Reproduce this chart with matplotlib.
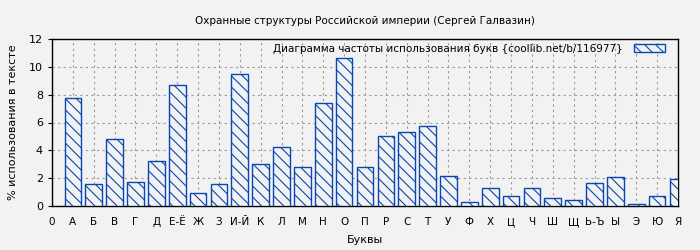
import numpy as np
import matplotlib
matplotlib.use("Agg")
import matplotlib.pyplot as plt

letters = ["А", "Б", "В", "Г", "Д", "Е-Ё", "Ж", "З", "И-Й", "К", "Л", "М", "Н", "О", "П",
           "Р", "С", "Т", "У", "Ф", "Х", "Ц", "Ч", "Ш", "Щ", "Ь-Ъ", "Ы", "Э", "Ю", "Я"]
percent = [7.75, 1.56, 4.8, 1.7, 3.22, 8.69, 0.91, 1.56, 9.48, 3.0, 4.22, 2.78, 7.39, 10.63, 2.78,
           5.02, 5.3, 5.74, 2.14, 0.26, 1.27, 0.7, 1.27, 0.55, 0.41, 1.63, 2.06, 0.12, 0.7, 1.92]

title = "Охранные структуры Российской империи (Сергей Галвазин)"
legend_label = "Диаграмма частоты использования букв {coollib.net/b/116977}"

bg = "#f2f2f2"
blue = "#0a47b0"

plt.rcParams["hatch.linewidth"] = 0.8
plt.rcParams["hatch.color"] = blue

fig = plt.figure(figsize=(7, 2.5), dpi=100, facecolor=bg)
ax = fig.add_axes([0.0743, 0.176, 0.8943, 0.668], facecolor=bg)

pos = np.arange(1, len(letters) + 1)
ax.bar(pos, percent, width=0.8, facecolor=bg, edgecolor=blue, linewidth=1.0,
       hatch="\\\\\\", label=legend_label, zorder=3)

ax.set_xlim(0, 30)
ax.set_ylim(0, 12)
ax.set_xticks(np.arange(0, 31))
ax.set_xticklabels(["0"] + letters, fontsize=7.5)
ax.set_yticks(np.arange(0, 13, 2))
ax.tick_params(axis="y", labelsize=8, length=3)
ax.tick_params(axis="x", length=0, pad=8)
ax.grid(True, color="#999999", linestyle=(0, (2, 3)), linewidth=0.8, zorder=0)

for s in ax.spines.values():
    s.set_linewidth(1.0)
    s.set_color("black")

ax.set_title(title, fontsize=7.5, pad=11)
ax.set_ylabel("% использования в тексте", fontsize=8, labelpad=8)
ax.set_xlabel("Буквы", fontsize=8, labelpad=6)

leg = ax.legend(loc="upper right", bbox_to_anchor=(0.979, 0.972), frameon=False,
                fontsize=7.5, markerfirst=False, handlelength=3.0, handleheight=0.67,
                handletextpad=1.0, borderaxespad=0, borderpad=0)

fig.savefig("out.png", dpi=100, facecolor=bg)
